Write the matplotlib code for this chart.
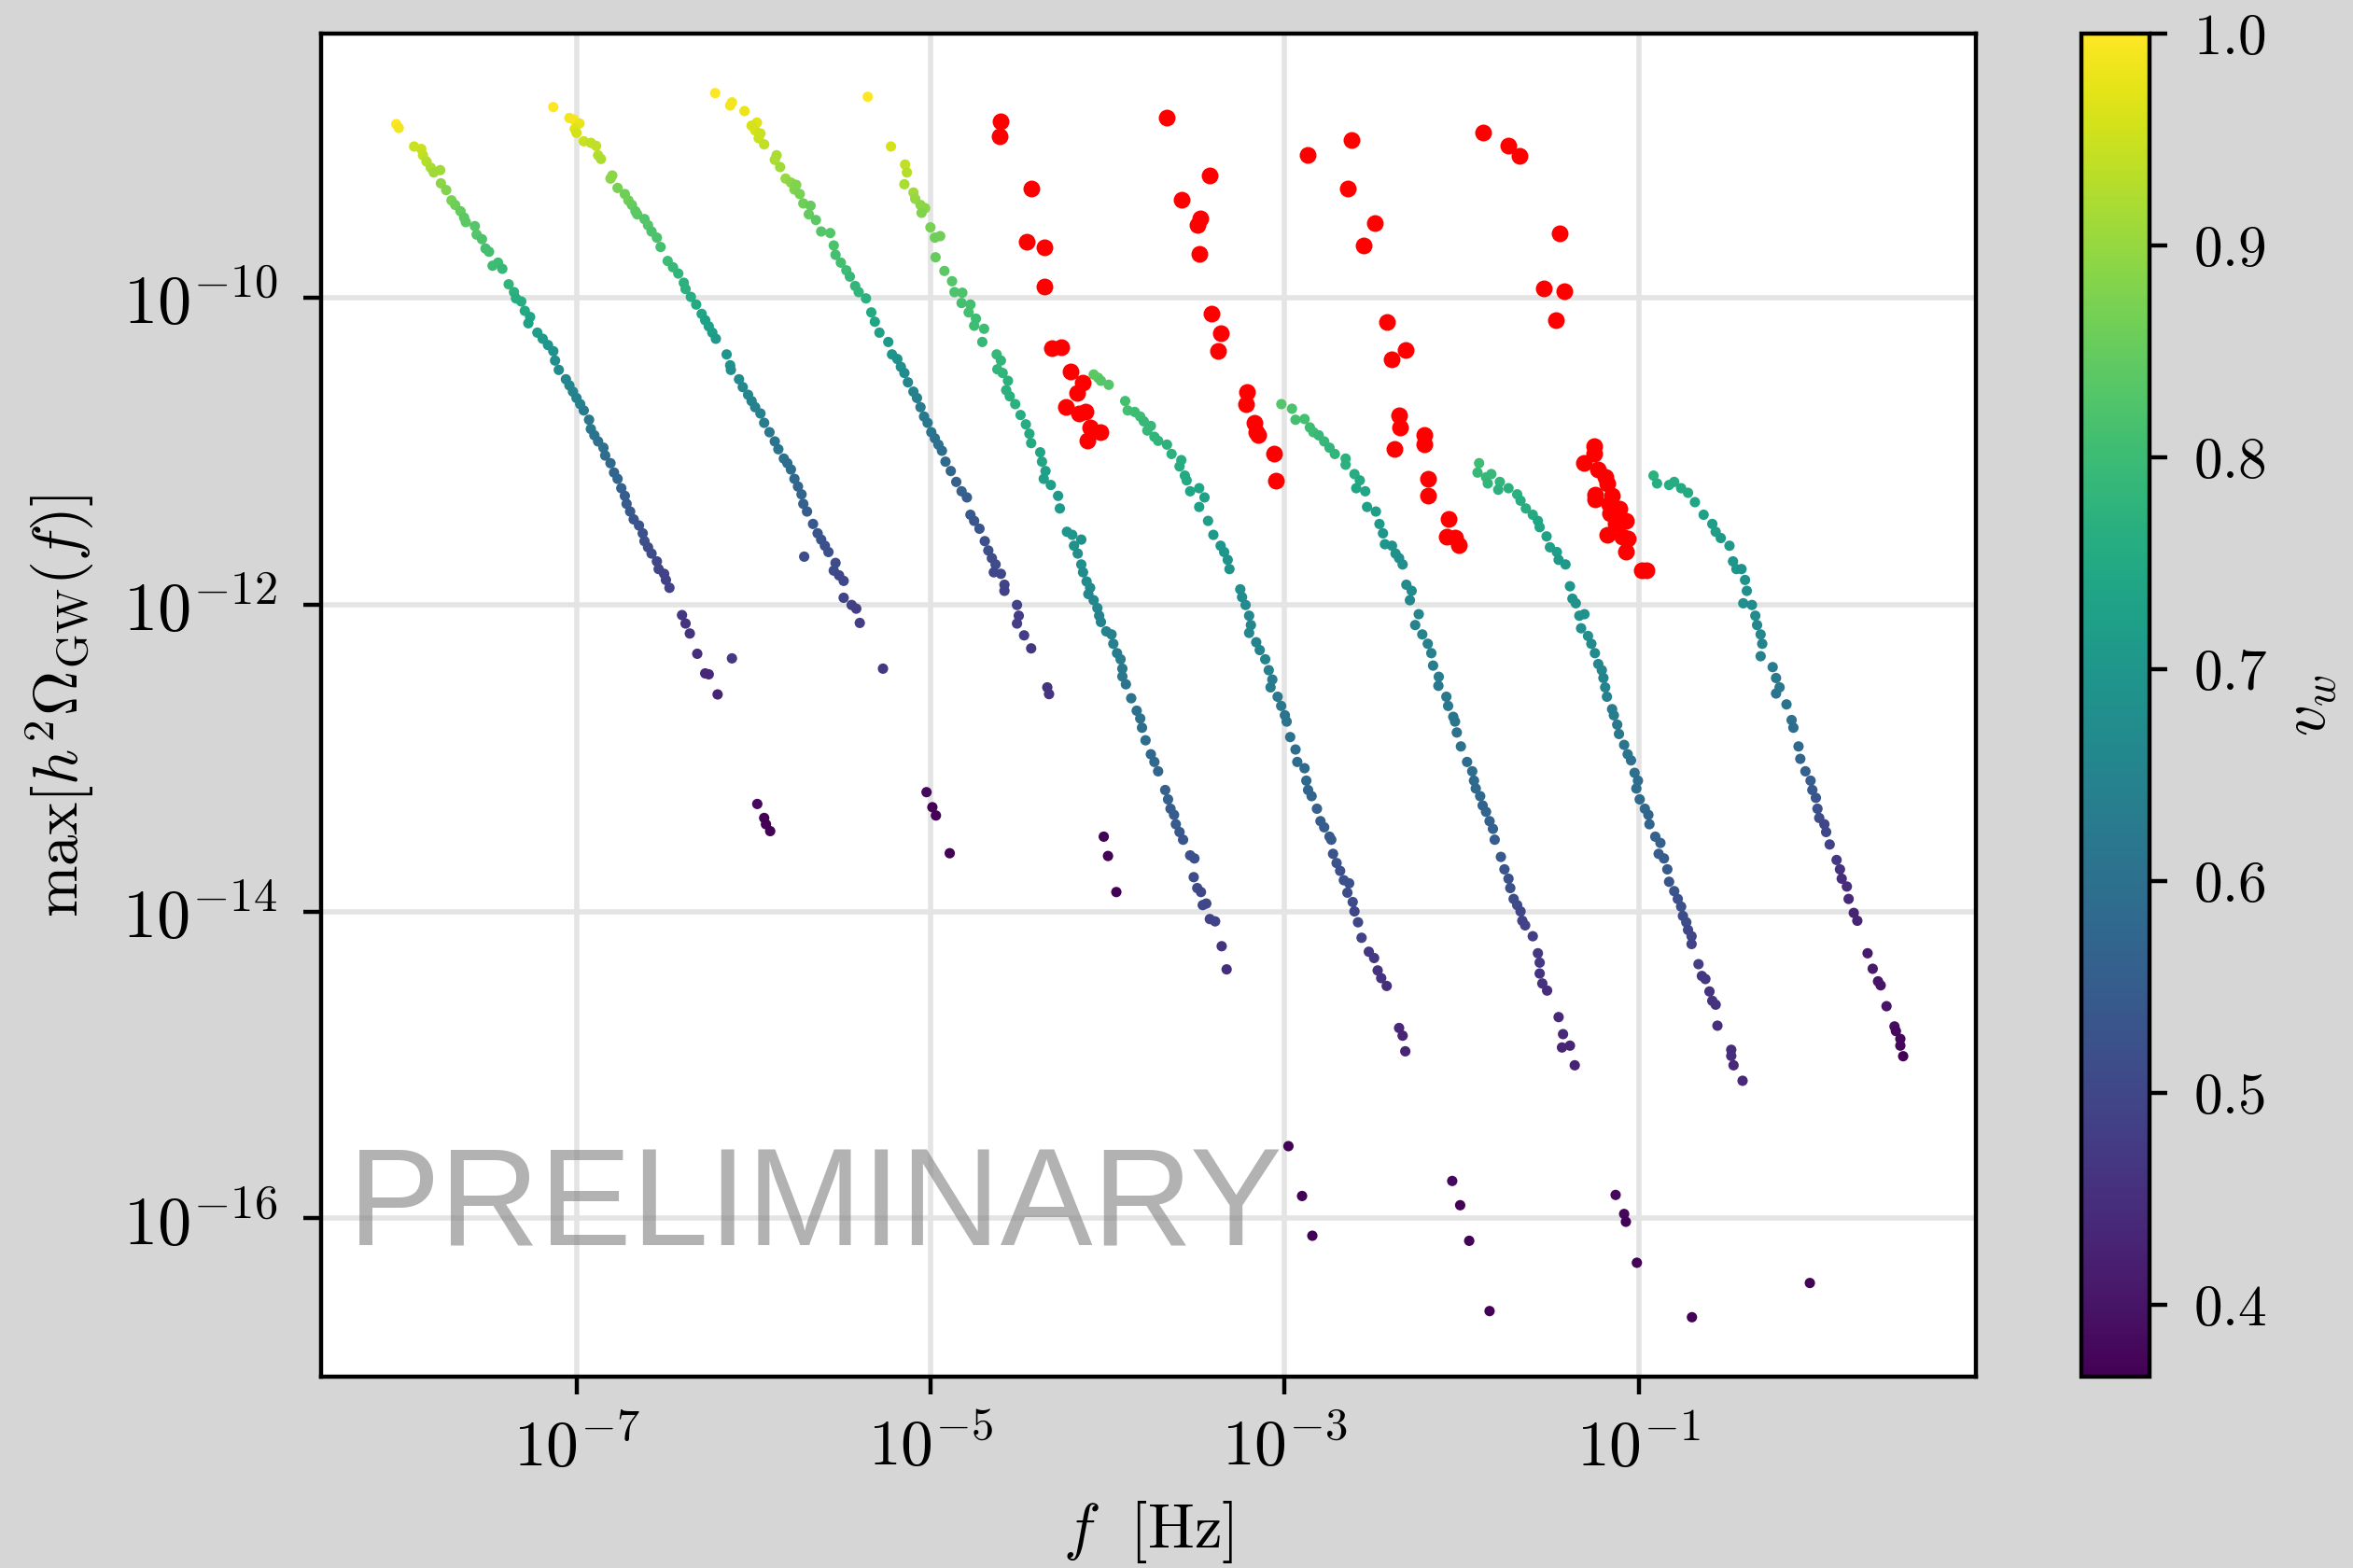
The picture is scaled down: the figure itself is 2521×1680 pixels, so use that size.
import matplotlib
matplotlib.use('Agg')
import matplotlib.pyplot as plt
from matplotlib.ticker import NullLocator
import numpy as np

# each point: (log10 f [Hz], log10 max h^2 Omega_GW, v_w)
strand_a = [
    (-8.018, -8.868, 1.00), (-8.004, -8.893, 0.99), (-7.917, -9.014, 0.95), (-7.877, -9.030, 0.95),
    (-7.867, -9.071, 0.94), (-7.847, -9.112, 0.93), (-7.823, -9.152, 0.92), (-7.806, -9.183, 0.91),
    (-7.770, -9.168, 0.91), (-7.766, -9.254, 0.89), (-7.736, -9.298, 0.88), (-7.706, -9.365, 0.87),
    (-7.685, -9.395, 0.86), (-7.655, -9.436, 0.85), (-7.635, -9.477, 0.84), (-7.625, -9.507, 0.84),
    (-7.574, -9.533, 0.83), (-7.564, -9.588, 0.83), (-7.534, -9.618, 0.82), (-7.514, -9.679, 0.81),
    (-7.494, -9.700, 0.81), (-7.474, -9.791, 0.80), (-7.443, -9.771, 0.80), (-7.419, -9.811, 0.79),
    (-7.383, -9.912, 0.78), (-7.353, -9.963, 0.77), (-7.342, -10.004, 0.76), (-7.312, -10.024, 0.76),
    (-7.292, -10.085, 0.75), (-7.262, -10.125, 0.74), (-7.272, -10.166, 0.73), (-7.221, -10.227, 0.72),
    (-7.191, -10.267, 0.71), (-7.161, -10.308, 0.70), (-7.131, -10.348, 0.69), (-7.121, -10.409, 0.68),
    (-7.100, -10.470, 0.67), (-7.060, -10.531, 0.66), (-7.040, -10.571, 0.66), (-7.020, -10.612, 0.65),
    (-7.000, -10.653, 0.64), (-6.979, -10.693, 0.64), (-6.959, -10.734, 0.63), (-6.929, -10.795, 0.62),
    (-6.919, -10.855, 0.62), (-6.899, -10.896, 0.61), (-6.878, -10.936, 0.60), (-6.848, -10.977, 0.60),
    (-6.838, -11.028, 0.59), (-6.808, -11.078, 0.58), (-6.788, -11.139, 0.57), (-6.768, -11.180, 0.57),
    (-6.747, -11.241, 0.56), (-6.727, -11.291, 0.55), (-6.717, -11.343, 0.55), (-6.697, -11.393, 0.54),
    (-6.677, -11.444, 0.53), (-6.647, -11.484, 0.53), (-6.626, -11.535, 0.52), (-6.616, -11.586, 0.52),
    (-6.596, -11.626, 0.51), (-6.576, -11.667, 0.51), (-6.546, -11.718, 0.50), (-6.536, -11.768, 0.50),
    (-6.505, -11.799, 0.49), (-6.495, -11.839, 0.49), (-6.475, -11.890, 0.49), (-6.404, -12.068, 0.47),
    (-6.384, -12.123, 0.46), (-6.360, -12.188, 0.46), (-6.318, -12.320, 0.45), (-6.273, -12.448, 0.44),
    (-6.253, -12.454, 0.44), (-6.203, -12.585, 0.43), (-6.122, -12.350, 0.47), (-5.979, -13.299, 0.38),
    (-5.940, -13.390, 0.37), (-5.930, -13.431, 0.37), (-5.906, -13.476, 0.37),
]

strand_b = [
    (-7.131, -8.757, 1.00), (-7.040, -8.828, 0.99), (-7.016, -8.838, 0.99), (-6.983, -8.864, 0.98),
    (-7.010, -8.899, 0.97), (-7.000, -8.925, 0.96), (-6.959, -8.980, 0.95), (-6.919, -8.990, 0.94),
    (-6.889, -9.010, 0.94), (-6.878, -9.071, 0.93), (-6.862, -9.095, 0.92), (-6.798, -9.203, 0.89),
    (-6.808, -9.223, 0.89), (-6.768, -9.284, 0.87), (-6.727, -9.324, 0.86), (-6.707, -9.365, 0.86),
    (-6.687, -9.395, 0.85), (-6.667, -9.436, 0.84), (-6.657, -9.456, 0.84), (-6.616, -9.487, 0.83),
    (-6.596, -9.527, 0.83), (-6.576, -9.568, 0.82), (-6.546, -9.608, 0.82), (-6.525, -9.669, 0.81),
    (-6.485, -9.760, 0.80), (-6.455, -9.801, 0.79), (-6.425, -9.842, 0.78), (-6.394, -9.902, 0.77),
    (-6.384, -9.943, 0.77), (-6.354, -9.994, 0.76), (-6.324, -10.044, 0.75), (-6.293, -10.105, 0.74),
    (-6.273, -10.146, 0.73), (-6.253, -10.186, 0.73), (-6.233, -10.227, 0.72), (-6.213, -10.267, 0.71),
    (-6.152, -10.369, 0.70), (-6.132, -10.440, 0.69), (-6.128, -10.470, 0.68), (-6.082, -10.531, 0.67),
    (-6.061, -10.582, 0.66), (-6.031, -10.632, 0.66), (-6.011, -10.673, 0.65), (-5.991, -10.713, 0.64),
    (-5.961, -10.754, 0.64), (-5.940, -10.815, 0.63), (-5.910, -10.876, 0.62), (-5.880, -10.936, 0.61),
    (-5.860, -10.987, 0.61), (-5.829, -11.048, 0.60), (-5.809, -11.078, 0.59), (-5.789, -11.119, 0.59),
    (-5.769, -11.180, 0.58), (-5.749, -11.230, 0.57), (-5.729, -11.281, 0.57), (-5.719, -11.343, 0.56),
    (-5.698, -11.393, 0.55), (-5.664, -11.474, 0.54), (-5.638, -11.535, 0.53), (-5.618, -11.576, 0.53),
    (-5.597, -11.616, 0.52), (-5.577, -11.657, 0.52), (-5.537, -11.728, 0.51), (-5.547, -11.778, 0.51),
    (-5.517, -11.809, 0.50), (-5.491, -11.845, 0.50), (-5.491, -11.955, 0.49), (-5.446, -12.002, 0.49),
    (-5.420, -12.026, 0.48), (-5.400, -12.119, 0.48), (-5.714, -11.687, 0.51), (-5.269, -12.417, 0.47),
    (-5.023, -13.222, 0.38), (-4.990, -13.320, 0.37), (-4.970, -13.374, 0.37), (-4.892, -13.620, 0.37),
]

strand_c = [
    (-6.217, -8.666, 1.00), (-6.122, -8.726, 0.99), (-6.132, -8.747, 0.99), (-6.051, -8.783, 0.98),
    (-5.981, -8.858, 0.97), (-6.011, -8.878, 0.96), (-5.991, -8.909, 0.96), (-5.961, -8.929, 0.95),
    (-5.971, -8.960, 0.95), (-5.940, -9.000, 0.94), (-5.870, -9.071, 0.92), (-5.880, -9.101, 0.92),
    (-5.850, -9.148, 0.91), (-5.819, -9.223, 0.90), (-5.789, -9.249, 0.89), (-5.759, -9.264, 0.88),
    (-5.769, -9.294, 0.88), (-5.739, -9.324, 0.87), (-5.719, -9.385, 0.86), (-5.678, -9.400, 0.85),
    (-5.688, -9.456, 0.85), (-5.648, -9.493, 0.84), (-5.618, -9.568, 0.83), (-5.567, -9.578, 0.83),
    (-5.547, -9.659, 0.82), (-5.537, -9.720, 0.81), (-5.507, -9.771, 0.81), (-5.476, -9.821, 0.80),
    (-5.456, -9.862, 0.79), (-5.426, -9.923, 0.78), (-5.406, -9.963, 0.78), (-5.365, -10.004, 0.77),
    (-5.335, -10.095, 0.75), (-5.315, -10.156, 0.74), (-5.289, -10.227, 0.73), (-5.239, -10.288, 0.71),
    (-5.218, -10.369, 0.70), (-5.188, -10.399, 0.69), (-5.168, -10.450, 0.68), (-5.148, -10.490, 0.67),
    (-5.128, -10.551, 0.66), (-5.097, -10.612, 0.65), (-5.077, -10.653, 0.64), (-5.057, -10.713, 0.63),
    (-5.037, -10.774, 0.62), (-5.017, -10.815, 0.62), (-4.996, -10.876, 0.61), (-4.976, -10.916, 0.60),
    (-4.956, -10.957, 0.60), (-4.936, -10.997, 0.59), (-4.916, -11.068, 0.58), (-4.886, -11.129, 0.57),
    (-4.855, -11.200, 0.56), (-4.825, -11.261, 0.56), (-4.795, -11.301, 0.55), (-4.775, -11.414, 0.54),
    (-4.754, -11.454, 0.53), (-4.724, -11.505, 0.53), (-4.694, -11.586, 0.52), (-4.674, -11.647, 0.52),
    (-4.654, -11.697, 0.51), (-4.633, -11.738, 0.51), (-4.643, -11.789, 0.50), (-4.603, -11.799, 0.50),
    (-4.583, -11.870, 0.50), (-4.583, -11.910, 0.49), (-4.512, -12.002, 0.49), (-4.502, -12.072, 0.48),
    (-4.512, -12.123, 0.48), (-4.472, -12.200, 0.48), (-4.432, -12.285, 0.47), (-4.341, -12.539, 0.46),
    (-4.331, -12.583, 0.46), (-4.022, -13.512, 0.37), (-3.998, -13.638, 0.37), (-3.951, -13.873, 0.37),
]

strand_d = [
    (-5.355, -8.690, 1.00), (-5.224, -9.014, 0.96), (-5.144, -9.132, 0.94), (-5.134, -9.183, 0.93),
    (-5.148, -9.260, 0.92), (-5.097, -9.314, 0.91), (-5.087, -9.355, 0.90), (-5.057, -9.395, 0.89),
    (-5.031, -9.416, 0.89), (-5.051, -9.446, 0.88), (-5.001, -9.541, 0.87), (-4.976, -9.608, 0.86),
    (-4.946, -9.598, 0.86), (-4.972, -9.736, 0.85), (-4.922, -9.825, 0.84), (-4.879, -9.892, 0.83),
    (-4.865, -9.963, 0.82), (-4.821, -9.967, 0.82), (-4.825, -10.034, 0.81), (-4.775, -10.044, 0.81),
    (-4.785, -10.095, 0.81), (-4.744, -10.136, 0.80), (-4.754, -10.182, 0.80), (-4.698, -10.202, 0.80),
    (-4.708, -10.288, 0.79), (-4.627, -10.369, 0.79), (-4.603, -10.409, 0.78), (-4.623, -10.466, 0.78),
    (-4.593, -10.490, 0.78), (-4.563, -10.541, 0.77), (-4.573, -10.602, 0.77), (-4.553, -10.642, 0.77),
    (-4.522, -10.693, 0.77), (-4.492, -10.764, 0.76), (-4.462, -10.825, 0.76), (-4.442, -10.886, 0.75),
    (-4.432, -10.947, 0.75), (-4.381, -11.007, 0.74), (-4.371, -11.068, 0.74), (-4.351, -11.129, 0.73),
    (-4.361, -11.180, 0.72), (-4.321, -11.220, 0.72), (-4.280, -11.291, 0.71), (-4.270, -11.373, 0.71),
    (-4.230, -11.525, 0.70), (-4.200, -11.545, 0.70), (-4.149, -11.576, 0.69), (-4.190, -11.616, 0.69),
    (-4.169, -11.667, 0.68), (-4.149, -11.738, 0.68), (-4.139, -11.789, 0.67), (-4.119, -11.849, 0.67),
    (-4.099, -11.890, 0.67), (-4.109, -11.931, 0.66), (-4.079, -11.971, 0.66), (-4.058, -12.022, 0.66),
    (-4.048, -12.072, 0.65), (-4.038, -12.113, 0.65), (-4.008, -12.174, 0.65), (-3.978, -12.194, 0.64),
    (-3.968, -12.255, 0.64), (-3.947, -12.316, 0.63), (-3.927, -12.356, 0.63), (-3.917, -12.417, 0.62),
    (-3.917, -12.468, 0.62), (-3.897, -12.519, 0.61), (-3.867, -12.610, 0.61), (-3.836, -12.691, 0.60),
    (-3.816, -12.742, 0.60), (-3.806, -12.802, 0.59), (-3.786, -12.884, 0.59), (-3.756, -12.975, 0.58),
    (-3.736, -13.025, 0.58), (-3.715, -13.086, 0.57), (-3.675, -13.208, 0.56), (-3.659, -13.269, 0.56),
    (-3.645, -13.330, 0.55), (-3.625, -13.370, 0.55), (-3.615, -13.431, 0.55), (-3.594, -13.482, 0.54),
    (-3.574, -13.532, 0.53), (-3.534, -13.634, 0.52), (-3.510, -13.654, 0.52), (-3.514, -13.776, 0.51),
    (-3.494, -13.847, 0.51), (-3.473, -13.873, 0.50), (-3.463, -13.958, 0.50), (-3.443, -13.948, 0.50),
    (-3.423, -14.049, 0.49), (-3.393, -14.064, 0.49), (-3.356, -14.226, 0.46), (-3.328, -14.377, 0.45),
    (-2.979, -15.529, 0.37), (-2.902, -15.854, 0.37), (-2.844, -16.113, 0.37),
]

strand_e = [
    (-4.079, -10.500, 0.84), (-4.054, -10.521, 0.84), (-4.038, -10.541, 0.83), (-3.994, -10.567, 0.83),
    (-3.901, -10.673, 0.81), (-3.887, -10.734, 0.81), (-3.847, -10.744, 0.80), (-3.816, -10.774, 0.80),
    (-3.796, -10.805, 0.79), (-3.756, -10.835, 0.79), (-3.776, -10.865, 0.79), (-3.736, -10.906, 0.78),
    (-3.715, -10.932, 0.78), (-3.665, -10.957, 0.77), (-3.639, -11.018, 0.77), (-3.584, -11.058, 0.76),
    (-3.594, -11.099, 0.76), (-3.564, -11.159, 0.75), (-3.554, -11.190, 0.75), (-3.534, -11.261, 0.74),
    (-3.483, -11.241, 0.74), (-3.453, -11.301, 0.73), (-3.483, -11.363, 0.73), (-3.433, -11.454, 0.72),
    (-3.403, -11.545, 0.71), (-3.362, -11.616, 0.70), (-3.342, -11.657, 0.70), (-3.322, -11.708, 0.69),
    (-3.312, -11.768, 0.69), (-3.251, -11.900, 0.68), (-3.241, -11.951, 0.67), (-3.221, -12.002, 0.67),
    (-3.201, -12.072, 0.66), (-3.191, -12.133, 0.66), (-3.201, -12.184, 0.66), (-3.161, -12.245, 0.65),
    (-3.141, -12.296, 0.65), (-3.110, -12.356, 0.65), (-3.090, -12.427, 0.64), (-3.070, -12.488, 0.63),
    (-3.080, -12.539, 0.63), (-3.040, -12.600, 0.62), (-3.020, -12.660, 0.62), (-2.999, -12.721, 0.61),
    (-2.989, -12.762, 0.61), (-2.969, -12.863, 0.60), (-2.939, -12.944, 0.59), (-2.929, -13.025, 0.59),
    (-2.888, -13.066, 0.58), (-2.878, -13.147, 0.58), (-2.868, -13.208, 0.57), (-2.848, -13.248, 0.57),
    (-2.818, -13.330, 0.56), (-2.798, -13.411, 0.55), (-2.777, -13.451, 0.55), (-2.747, -13.512, 0.54),
    (-2.737, -13.532, 0.54), (-2.727, -13.624, 0.53), (-2.707, -13.684, 0.53), (-2.687, -13.735, 0.52),
    (-2.666, -13.796, 0.52), (-2.636, -13.816, 0.52), (-2.646, -13.877, 0.51), (-2.616, -13.938, 0.51),
    (-2.606, -13.999, 0.50), (-2.586, -14.070, 0.50), (-2.566, -14.171, 0.49), (-2.525, -14.262, 0.47),
    (-2.495, -14.303, 0.47), (-2.475, -14.384, 0.46), (-2.455, -14.434, 0.46), (-2.424, -14.485, 0.45),
    (-2.354, -14.759, 0.44), (-2.334, -14.809, 0.43), (-2.319, -14.911, 0.43), (-2.054, -15.756, 0.38),
    (-2.009, -15.914, 0.37), (-1.958, -16.146, 0.37), (-1.843, -16.604, 0.37),
]

strand_f = [
    (-3.019, -10.693, 0.83), (-2.959, -10.723, 0.82), (-2.939, -10.795, 0.81), (-2.888, -10.790, 0.81),
    (-2.858, -10.845, 0.80), (-2.838, -10.876, 0.80), (-2.808, -10.896, 0.79), (-2.777, -10.936, 0.79),
    (-2.747, -10.977, 0.78), (-2.717, -11.018, 0.78), (-2.656, -11.048, 0.77), (-2.656, -11.088, 0.77),
    (-2.606, -11.149, 0.76), (-2.576, -11.190, 0.75), (-2.596, -11.241, 0.74), (-2.545, -11.261, 0.74),
    (-2.535, -11.363, 0.73), (-2.485, -11.393, 0.72), (-2.465, -11.474, 0.71), (-2.445, -11.535, 0.70),
    (-2.434, -11.606, 0.70), (-2.394, -11.616, 0.69), (-2.374, -11.667, 0.69), (-2.354, -11.697, 0.68),
    (-2.334, -11.738, 0.68), (-2.313, -11.870, 0.67), (-2.283, -11.910, 0.67), (-2.293, -11.971, 0.66),
    (-2.243, -12.062, 0.66), (-2.263, -12.133, 0.65), (-2.223, -12.194, 0.65), (-2.192, -12.255, 0.64),
    (-2.172, -12.316, 0.64), (-2.162, -12.397, 0.63), (-2.130, -12.470, 0.63), (-2.132, -12.529, 0.62),
    (-2.087, -12.600, 0.62), (-2.077, -12.660, 0.62), (-2.048, -12.731, 0.61), (-2.038, -12.762, 0.61),
    (-2.028, -12.833, 0.60), (-2.005, -12.924, 0.60), (-1.970, -13.025, 0.59), (-1.941, -13.086, 0.59),
    (-1.931, -13.147, 0.58), (-1.921, -13.198, 0.58), (-1.896, -13.248, 0.58), (-1.882, -13.309, 0.57),
    (-1.863, -13.350, 0.57), (-1.843, -13.411, 0.56), (-1.824, -13.461, 0.56), (-1.814, -13.532, 0.55),
    (-1.779, -13.644, 0.54), (-1.759, -13.725, 0.53), (-1.736, -13.786, 0.52), (-1.726, -13.847, 0.52),
    (-1.707, -13.918, 0.51), (-1.687, -13.958, 0.51), (-1.668, -13.999, 0.50), (-1.658, -14.060, 0.49),
    (-1.642, -14.090, 0.49), (-1.599, -14.161, 0.48), (-1.570, -14.272, 0.47), (-1.560, -14.333, 0.47),
    (-1.560, -14.404, 0.46), (-1.545, -14.469, 0.46), (-1.518, -14.515, 0.45), (-1.453, -14.688, 0.44),
    (-1.428, -14.799, 0.44), (-1.434, -14.886, 0.43), (-1.389, -14.874, 0.43), (-1.362, -15.002, 0.43),
    (-1.131, -15.847, 0.38), (-1.083, -15.971, 0.38), (-1.073, -16.022, 0.37), (-1.011, -16.289, 0.37),
    (-0.700, -16.644, 0.37),
]

strand_g = [
    (-1.902, -11.078, 0.80), (-1.911, -11.139, 0.79), (-1.863, -11.170, 0.79), (-1.833, -11.149, 0.79),
    (-1.853, -11.210, 0.78), (-1.785, -11.200, 0.78), (-1.794, -11.251, 0.77), (-1.736, -11.241, 0.77),
    (-1.687, -11.281, 0.77), (-1.668, -11.322, 0.76), (-1.638, -11.373, 0.76), (-1.599, -11.414, 0.75),
    (-1.570, -11.454, 0.74), (-1.560, -11.495, 0.74), (-1.521, -11.555, 0.73), (-1.502, -11.626, 0.72),
    (-1.463, -11.657, 0.72), (-1.453, -11.708, 0.71), (-1.414, -11.738, 0.71), (-1.389, -11.880, 0.70),
    (-1.375, -11.961, 0.69), (-1.356, -11.991, 0.69), (-1.336, -12.072, 0.69), (-1.307, -12.062, 0.69),
    (-1.326, -12.154, 0.68), (-1.287, -12.204, 0.68), (-1.268, -12.255, 0.67), (-1.248, -12.316, 0.67),
    (-1.229, -12.387, 0.66), (-1.209, -12.427, 0.66), (-1.200, -12.478, 0.65), (-1.190, -12.539, 0.65),
    (-1.180, -12.600, 0.64), (-1.151, -12.681, 0.63), (-1.141, -12.721, 0.63), (-1.122, -12.782, 0.62),
    (-1.112, -12.843, 0.62), (-1.083, -12.914, 0.61), (-1.063, -12.975, 0.61), (-1.044, -13.015, 0.60),
    (-1.024, -13.096, 0.60), (-1.005, -13.147, 0.59), (-1.014, -13.198, 0.59), (-0.995, -13.269, 0.58),
    (-0.966, -13.330, 0.58), (-0.946, -13.370, 0.57), (-0.940, -13.431, 0.57), (-0.907, -13.512, 0.56),
    (-0.878, -13.553, 0.56), (-0.888, -13.624, 0.55), (-0.858, -13.654, 0.55), (-0.839, -13.725, 0.54),
    (-0.829, -13.806, 0.53), (-0.800, -13.867, 0.53), (-0.780, -13.918, 0.52), (-0.761, -13.968, 0.52),
    (-0.751, -14.029, 0.51), (-0.732, -14.070, 0.51), (-0.722, -14.120, 0.50), (-0.702, -14.161, 0.50),
    (-0.702, -14.212, 0.49), (-0.663, -14.343, 0.48), (-0.644, -14.420, 0.47), (-0.624, -14.440, 0.47),
    (-0.601, -14.521, 0.46), (-0.585, -14.582, 0.46), (-0.566, -14.607, 0.46), (-0.556, -14.744, 0.45),
    (-0.478, -14.901, 0.45), (-0.478, -14.941, 0.45), (-0.465, -15.002, 0.44), (-0.414, -15.103, 0.44),
    (-0.034, -16.421, 0.37),
]

strand_h = [
    (-0.917, -11.159, 0.77), (-0.897, -11.210, 0.76), (-0.829, -11.220, 0.76), (-0.800, -11.200, 0.76),
    (-0.761, -11.241, 0.75), (-0.722, -11.271, 0.75), (-0.683, -11.332, 0.74), (-0.634, -11.414, 0.73),
    (-0.585, -11.474, 0.72), (-0.566, -11.525, 0.72), (-0.537, -11.566, 0.71), (-0.488, -11.616, 0.71),
    (-0.468, -11.718, 0.70), (-0.449, -11.768, 0.70), (-0.420, -11.768, 0.69), (-0.400, -11.839, 0.69),
    (-0.390, -11.910, 0.68), (-0.410, -11.991, 0.68), (-0.361, -12.002, 0.67), (-0.342, -12.072, 0.67),
    (-0.332, -12.133, 0.66), (-0.312, -12.194, 0.66), (-0.303, -12.255, 0.65), (-0.312, -12.336, 0.64),
    (-0.244, -12.407, 0.63), (-0.225, -12.478, 0.62), (-0.205, -12.539, 0.62), (-0.225, -12.579, 0.61),
    (-0.166, -12.650, 0.61), (-0.137, -12.752, 0.60), (-0.127, -12.802, 0.59), (-0.098, -12.924, 0.58),
    (-0.088, -13.005, 0.57), (-0.059, -13.086, 0.56), (-0.030, -13.147, 0.55), (-0.020, -13.208, 0.54),
    (0.000, -13.259, 0.53), (0.009, -13.330, 0.52), (0.019, -13.390, 0.51), (0.048, -13.431, 0.50),
    (0.058, -13.482, 0.50), (0.078, -13.563, 0.49), (0.117, -13.664, 0.47), (0.136, -13.725, 0.46),
    (0.146, -13.786, 0.45), (0.175, -13.837, 0.45), (0.185, -13.918, 0.44), (0.214, -14.009, 0.43),
    (0.234, -14.060, 0.43), (0.292, -14.272, 0.41), (0.321, -14.373, 0.41), (0.351, -14.455, 0.40),
    (0.366, -14.481, 0.40), (0.399, -14.617, 0.40), (0.444, -14.749, 0.39), (0.452, -14.779, 0.38),
    (0.477, -14.830, 0.38), (0.477, -14.874, 0.38), (0.493, -14.943, 0.37),
]

# points flagged in red: (log10 f, log10 h^2 Omega_GW)
flagged = [
    (-4.607, -8.852), (-4.611, -8.945), (-4.432, -9.288), (-4.456, -9.635), (-4.357, -9.669),
    (-4.355, -9.927), (-4.313, -10.328), (-4.264, -10.324), (-4.210, -10.480), (-4.139, -10.551),
    (-4.175, -10.622), (-4.236, -10.713), (-4.163, -10.754), (-4.123, -10.744), (-4.099, -10.845),
    (-4.042, -10.876), (-4.115, -10.932),
    (-3.665, -8.824), (-3.423, -9.203), (-3.584, -9.361), (-3.479, -9.481), (-3.494, -9.527),
    (-3.483, -9.716), (-3.413, -10.105), (-3.362, -10.231), (-3.377, -10.348), (-3.211, -10.612),
    (-3.221, -10.693), (-3.171, -10.815), (-3.161, -10.876), (-3.151, -10.896), (-3.060, -11.018),
    (-3.050, -11.190),
    (-2.868, -9.071), (-2.622, -8.970), (-2.642, -9.288), (-2.491, -9.513), (-2.555, -9.659),
    (-2.420, -10.160), (-2.319, -10.338), (-2.398, -10.399), (-2.354, -10.764), (-2.348, -10.845),
    (-2.378, -10.987), (-2.213, -10.896), (-2.213, -10.957), (-2.192, -11.180), (-2.192, -11.291),
    (-2.077, -11.440), (-2.087, -11.555), (-2.038, -11.562), (-2.019, -11.610),
    (-1.878, -8.923), (-1.736, -9.006), (-1.672, -9.075), (-1.449, -9.578), (-1.535, -9.937),
    (-1.420, -9.959), (-1.469, -10.146), (-1.252, -10.967), (-1.254, -11.018), (-1.311, -11.074),
    (-1.229, -11.119), (-1.190, -11.170), (-1.176, -11.210), (-1.248, -11.281), (-1.151, -11.291),
    (-1.248, -11.312), (-1.170, -11.343), (-1.112, -11.373), (-1.161, -11.403), (-1.073, -11.454),
    (-1.131, -11.474), (-1.180, -11.545), (-1.092, -11.555), (-1.063, -11.566), (-1.073, -11.657),
    (-0.985, -11.778), (-0.956, -11.778),
]

vw_min, vw_max = 0.366, 1.0

plt.rcParams.update({
    'font.family': 'serif',
    'font.serif': ['cmr10'],
    'mathtext.fontset': 'cm',
    'axes.formatter.use_mathtext': True,
    'font.size': 11,
    'axes.unicode_minus': True,
})

fig = plt.figure(figsize=(2521 / 400, 1681 / 400), dpi=400, facecolor='#d6d6d6')
ax = fig.add_axes([0.1365, 0.1221, 0.7031, 0.8560])
cax = fig.add_axes([0.8846, 0.1221, 0.0290, 0.8560])

pts = np.array([p for s in (strand_a, strand_b, strand_c, strand_d,
                            strand_e, strand_f, strand_g, strand_h) for p in s])
red = np.array(flagged)

ax.set_xscale('log')
ax.set_yscale('log')
sc = ax.scatter(10 ** pts[:, 0], 10 ** pts[:, 1], c=pts[:, 2], cmap='viridis',
                vmin=vw_min, vmax=vw_max, s=4, linewidths=0, zorder=3)
ax.scatter(10 ** red[:, 0], 10 ** red[:, 1], color='red', s=10.5, linewidths=0, zorder=4)

ax.set_xlim(10 ** -8.442, 10 ** 0.902)
ax.set_ylim(10 ** -17.03, 10 ** -8.277)
ax.set_xticks([1e-7, 1e-5, 1e-3, 1e-1])
ax.set_yticks([1e-16, 1e-14, 1e-12, 1e-10])
ax.xaxis.set_minor_locator(NullLocator())
ax.yaxis.set_minor_locator(NullLocator())
ax.tick_params(axis='x', labelsize=12.5, pad=4)
ax.tick_params(axis='y', labelsize=13, pad=5)
ax.grid(True, color='#e4e4e4', linewidth=1.0)
ax.set_axisbelow(True)

ax.set_xlabel(r'$f\ \ [\mathrm{Hz}]$', fontsize=12, labelpad=4)
ax.set_ylabel(r'$\max[h^2\Omega_{\mathrm{GW}}(f)]$', fontsize=12, labelpad=5)

ax.text(0.0164, 0.0985, 'PRELIMINARY', transform=ax.transAxes, fontsize=26.7,
        family='Liberation Sans', color='gray', alpha=0.6, ha='left', va='baseline', zorder=2)

cb = fig.colorbar(sc, cax=cax)
cb.set_ticks([0.4, 0.5, 0.6, 0.7, 0.8, 0.9, 1.0])
cb.ax.tick_params(labelsize=11, pad=5)
cb.set_label(r'$v_w$', fontsize=12, labelpad=3)

fig.savefig('out.png', dpi=400, facecolor=fig.get_facecolor())
